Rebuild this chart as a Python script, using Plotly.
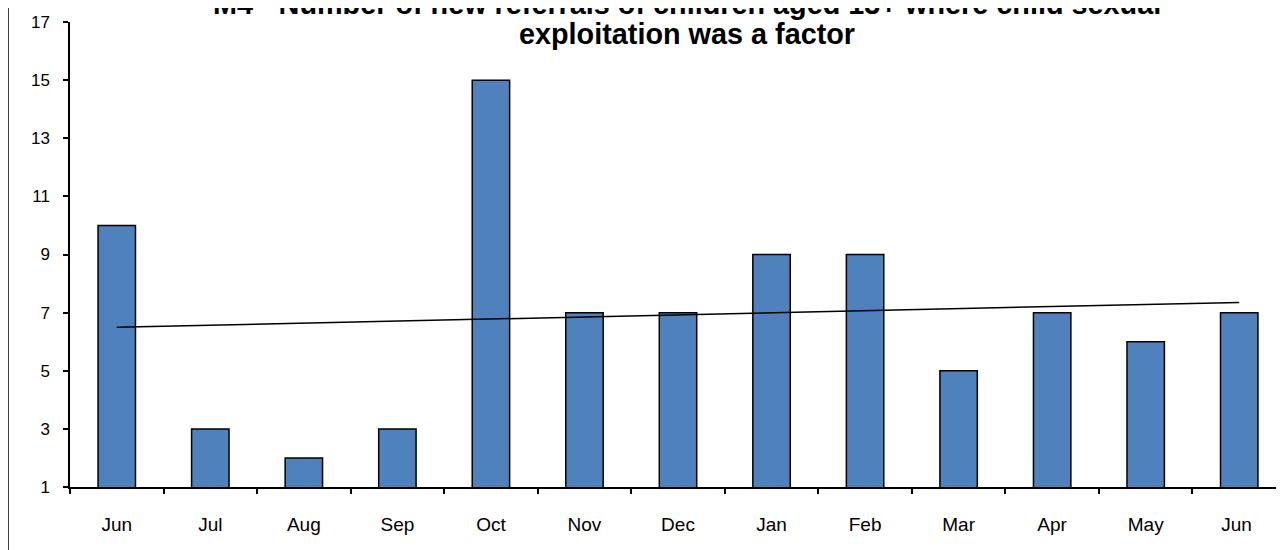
import numpy as np
import plotly.graph_objects as go

months = ["Jun", "Jul", "Aug", "Sep", "Oct", "Nov", "Dec", "Jan", "Feb", "Mar", "Apr", "May", "Jun "]
referrals = [10, 3, 2, 3, 15, 7, 7, 9, 9, 5, 7, 6, 7]
y_ticks = [1, 3, 5, 7, 9, 11, 13, 15, 17]
title_lines = ["M4 - Number of new referrals of children aged 13+ where child sexual",
               "exploitation was a factor"]

FONT = "Liberation Sans, Arial, sans-serif"

# linear trend line fitted to the series
xi = np.arange(len(referrals))
slope, intercept = np.polyfit(xi, referrals, 1)
trend = intercept + slope * xi

fig = go.Figure()
fig.add_trace(go.Bar(
    x=months, y=referrals, width=0.4,
    marker=dict(color="#4F81BD", line=dict(color="black", width=1.5)),
    showlegend=False, hoverinfo="x+y",
))
fig.add_trace(go.Scatter(
    x=months, y=trend, mode="lines",
    line=dict(color="black", width=1.5),
    showlegend=False, hoverinfo="skip",
))

# the page body adds an 8px offset, compensated in the margins
W, H = 1284, 550
ml, mr, mt, mb = 62, 6, 14, 71
plot_w = W - ml - mr
plot_h = H - mt - mb

title_bottoms = [14, 44]  # bottom of each title line box, px from figure top
annotations = [
    dict(
        text=line, xref="paper", yref="paper",
        x=(679 - ml) / plot_w, y=1 + (mt - b) / plot_h,
        xanchor="center", yanchor="bottom", showarrow=False,
        font=dict(family=FONT, size=28.8, color="black", weight="bold"),
    )
    for line, b in zip(title_lines, title_bottoms)
]

fig.update_layout(
    width=W, height=H,
    margin=dict(l=ml, r=mr, t=mt, b=mb, pad=0, autoexpand=False),
    paper_bgcolor="white", plot_bgcolor="white",
    font=dict(family=FONT, color="black", size=18),
    bargap=0.6,
    xaxis=dict(
        type="category", range=[-0.5, 12.5], automargin=False,
        showline=True, linecolor="black", linewidth=1.5,
        ticks="outside", tickson="boundaries", ticklen=5, tickcolor="black", tickwidth=1.5,
        showgrid=False, zeroline=False,
        tickfont=dict(size=19), ticklabelstandoff=19,
    ),
    yaxis=dict(
        range=[1, 17], tickvals=y_ticks, ticktext=[str(v) for v in y_ticks],
        automargin=False,
        showline=True, linecolor="black", linewidth=1.5,
        ticks="outside", ticklen=5, tickcolor="black", tickwidth=1.5,
        showgrid=False, zeroline=False,
        tickfont=dict(size=17), ticklabelstandoff=10,
    ),
    annotations=annotations,
    shapes=[dict(
        type="line", xref="paper", yref="paper",
        x0=(0 - ml) / plot_w, x1=(0 - ml) / plot_w,
        y0=1 + mt / plot_h, y1=-mb / plot_h,
        line=dict(color="black", width=1.5),
    )],
)

fig.write_html("out.html")
